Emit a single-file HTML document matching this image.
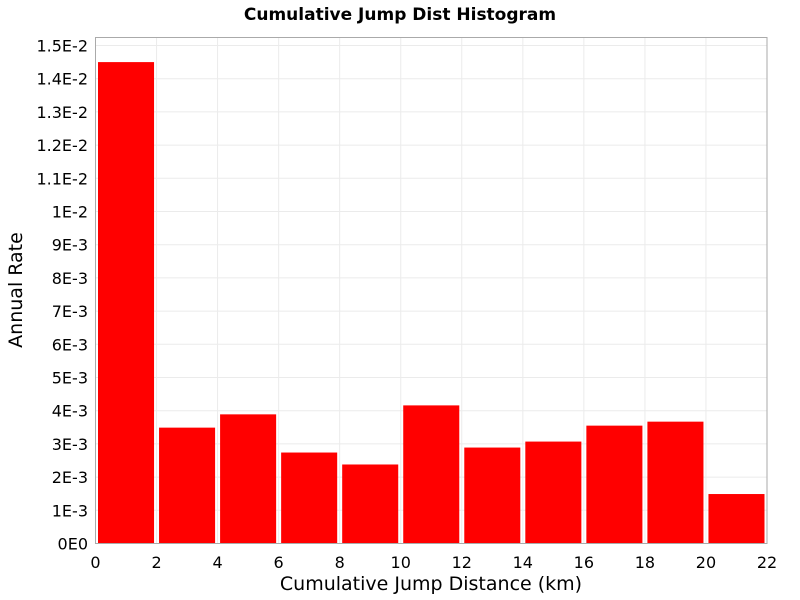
<!DOCTYPE html>
<html><head><meta charset="utf-8"><style>
body{margin:0;background:#fff;}
svg{display:block;font-family:"DejaVu Sans","Liberation Sans",sans-serif;}
</style></head><body>
<svg id="chart" width="800" height="600" xmlns="http://www.w3.org/2000/svg">
<text x="400" y="20" text-anchor="middle" font-size="17" font-weight="bold">Cumulative Jump Dist Histogram</text>
<g id="grid"></g><g id="bars"></g><g id="axes"></g>
<text x="431" y="590" text-anchor="middle" font-size="19">Cumulative Jump Distance (km)</text>
<text transform="translate(22,290) rotate(-90)" text-anchor="middle" font-size="19">Annual Rate</text>
</svg>
<script>
const binStarts=[0,2,4,6,8,10,12,14,16,18,20];
const binWidth=2;
const rates=[0.0145,0.00349,0.00389,0.00274,0.00238,0.00416,0.00289,0.00307,0.00355,0.00367,0.00149];
const xTicks=[0,2,4,6,8,10,12,14,16,18,20,22];
const yTicks=[0,0.001,0.002,0.003,0.004,0.005,0.006,0.007,0.008,0.009,0.01,0.011,0.012,0.013,0.014,0.015];
const yTickLabels=["0E0","1E-3","2E-3","3E-3","4E-3","5E-3","6E-3","7E-3","8E-3","9E-3","1E-2","1.1E-2","1.2E-2","1.3E-2","1.4E-2","1.5E-2"];
const L=95.5,R=767,T=37.5,B=543.5,xMax=22,yPerUnit=33.2/0.001;
const xS=v=>L+(R-L)*v/xMax;
const yS=v=>B-v*yPerUnit;
const NS="http://www.w3.org/2000/svg";
function mk(tag,attrs,parent){const e=document.createElementNS(NS,tag);for(const k in attrs)e.setAttribute(k,attrs[k]);parent.appendChild(e);return e;}
const grid=document.getElementById('grid'),bars=document.getElementById('bars'),axes=document.getElementById('axes');
xTicks.forEach(t=>{
 const g=mk('line',{x1:xS(t),x2:xS(t),y1:T,y2:B,stroke:'#ebebeb','stroke-width':1},grid);
 
 
 const tl=mk('text',{x:xS(t),y:568,'text-anchor':'middle','font-size':16},axes);
 tl.textContent=t;
 
 
});
yTicks.forEach((t,i)=>{
 const g=mk('line',{x1:L,x2:R,y1:yS(t),y2:yS(t),stroke:'#ebebeb','stroke-width':1},grid);
 
 
 const tl=mk('text',{x:88,y:yS(t)+6,'text-anchor':'end','font-size':16},axes);
 tl.textContent=yTickLabels[i];
 
 
});
rates.forEach((v,i)=>{
 const x0=xS(binStarts[i])+2.5,x1=xS(binStarts[i]+binWidth)-2.5;
 const r=mk('rect',{x:x0,y:yS(v),width:x1-x0,height:B-yS(v),fill:'#ff0000'},bars);
 
 
});
const f=mk('rect',{x:L,y:T,width:R-L,height:B-T,fill:'none',stroke:'#aaaaaa','stroke-width':1},axes);


</script>
</body></html>
